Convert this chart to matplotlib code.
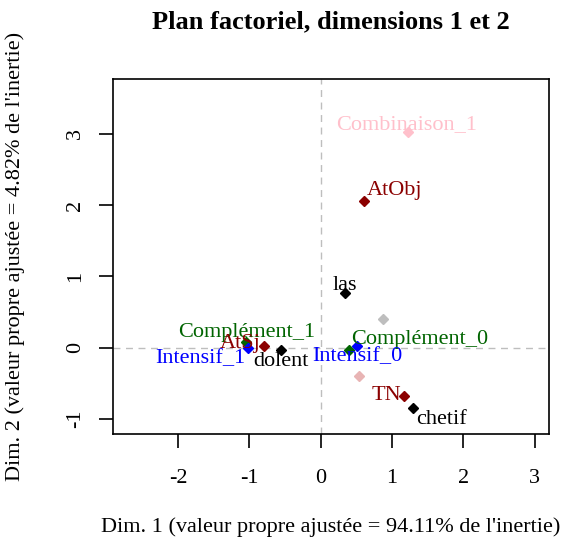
import matplotlib
matplotlib.use("Agg")
import matplotlib.pyplot as plt

plt.rcParams['font.family'] = ['Liberation Serif', 'DejaVu Serif']
plt.rcParams['axes.unicode_minus'] = False

# modalities: name, dim1, dim2, colour
names = ['Combinaison_1', 'AtObj', 'las', '', 'Complément_0', 'Intensif_0', '',
         'TN', 'chetif', 'Complément_1', 'Intensif_1', 'AtSj', 'dolent']
dim1 = [1.22, 0.61, 0.34, 0.87, 0.40, 0.51, 0.54, 1.17, 1.29, -1.05, -1.02, -0.79, -0.55]
dim2 = [3.02, 2.06, 0.77, 0.41, -0.03, 0.03, -0.39, -0.67, -0.85, 0.08, -0.01, 0.03, -0.03]
colors = ['#FFC0CB', '#8B0000', 'black', '#BEBEBE', '#006400', 'blue', '#E8B4B4',
          '#8B0000', 'black', '#006400', 'blue', '#8B0000', 'black']

# label offsets (in data units) to mimic the repel layout
offsets = [(-0.01, 0.11), (0.42, 0.15), (0.0, 0.11), (0, 0), (0.99, 0.14),
           (0.01, -0.15), (0, 0), (-0.25, 0.0), (0.41, -0.16), (0.02, 0.13),
           (-0.67, -0.14), (-0.34, 0.03), (-0.01, -0.16)]

title = 'Plan factoriel, dimensions 1 et 2'
xlab = "Dim. 1 (valeur propre ajustée = 94.11% de l'inertie)"
ylab = "Dim. 2 (valeur propre ajustée = 4.82% de l'inertie)"

fig = plt.figure(figsize=(5.65, 5.37), dpi=100)
ax = fig.add_axes([0.2, 0.1918, 0.7717, 0.6611])

ax.axhline(0, color='#BEBEBE', linestyle=(0, (5, 4)), linewidth=1, zorder=0)
ax.axvline(0, color='#BEBEBE', linestyle=(0, (5, 4)), linewidth=1, zorder=0)

for i in range(len(names)):
    ax.plot(dim1[i], dim2[i], marker='D', color=colors[i], markersize=5, linestyle='none')
    if names[i]:
        ax.text(dim1[i] + offsets[i][0], dim2[i] + offsets[i][1], names[i],
                color=colors[i], fontsize=16, ha='center', va='center')

ax.set_xlim(-2.91, 3.20)
ax.set_ylim(-1.21, 3.77)
ax.set_xticks([-2, -1, 0, 1, 2, 3])
ax.set_yticks([-1, 0, 1, 2, 3])
ax.tick_params(direction='out', length=10, width=1.2, labelsize=16)
ax.tick_params(axis='x', pad=15)
ax.tick_params(axis='y', pad=10)
for lab in ax.get_yticklabels():
    lab.set_rotation(90)
    lab.set_va('center')
for s in ax.spines.values():
    s.set_linewidth(1.2)

fig.text(0.585, 0.959, title, ha='center', va='center', fontsize=19, fontweight='bold')
fig.text(0.585, 0.019, xlab, ha='center', va='center', fontsize=16)
fig.text(0.027, 0.523, ylab, ha='center', va='center', fontsize=16, rotation=90)

fig.savefig('out.png', dpi=100)
